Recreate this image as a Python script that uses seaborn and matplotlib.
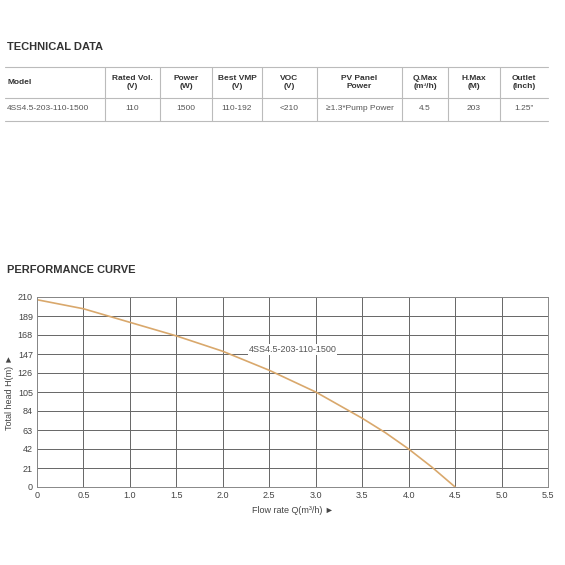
import numpy as np
import matplotlib.pyplot as plt
import seaborn as sns

# table data
headers = ['Model', 'Rated Vol.\n(V)', 'Power\n(W)', 'Best VMP\n(V)', 'VOC\n(V)',
           'PV Panel\nPower', 'Q.Max\n(m³/h)', 'H.Max\n(M)', 'Outlet\n(Inch)']
row = ['4SS4.5-203-110-1500', '110', '1500', '110-192', '<210',
       '≥1.3*Pump Power', '4.5', '203', '1.25"']

# curve data
flow = [0, 0.5, 1.0, 1.5, 2.0, 2.5, 3.0, 3.5, 3.75, 4.0, 4.25, 4.5]
head = [207, 197, 182, 167, 150, 129, 105, 76, 60, 42, 22, 0]

sns.set_theme(style='white')
plt.rcParams['font.family'] = ['Liberation Sans', 'DejaVu Sans']

W = 565
fig = plt.figure(figsize=(5.65, 5.65), dpi=100)
tc = '#333333'

def fy(p):
    return 1 - p / W

# technical data table
fig.text(7 / W, fy(47), 'TECHNICAL DATA', fontsize=8, fontweight='bold', color=tc, va='center')
xs = [5, 105, 160, 212, 262, 317, 402, 448, 500, 548]
for y in [67, 98, 121]:
    fig.add_artist(plt.Line2D([5 / W, 548 / W], [fy(y), fy(y)], color='#bbbbbb', lw=0.8))
for x in xs[1:-1]:
    fig.add_artist(plt.Line2D([x / W, x / W], [fy(67), fy(121)], color='#bbbbbb', lw=0.8))
for i, (h, v) in enumerate(zip(headers, row)):
    if i == 0:
        fig.text(7 / W, fy(82), h, fontsize=6, fontweight='bold', color=tc, va='center')
        fig.text(7 / W, fy(109), v, fontsize=6, color='#555555', va='center')
    else:
        cx = (xs[i] + xs[i + 1]) / 2 / W
        fig.text(cx, fy(82), h, fontsize=6, fontweight='bold', color=tc, va='center', ha='center', linespacing=1.2)
        fig.text(cx, fy(109), v, fontsize=6, color='#555555', va='center', ha='center')

# performance curve
fig.text(7 / W, fy(270), 'PERFORMANCE CURVE', fontsize=8, fontweight='bold', color=tc, va='center')
ax = fig.add_axes([37 / W, fy(487), (548 - 37) / W, (487 - 297) / W])
sns.lineplot(x=flow, y=head, ax=ax, color='#d9a86c', lw=1.2)
ax.set_xlim(0, 5.5)
ax.set_ylim(0, 210)
ax.set_xticks(np.arange(0, 5.51, 0.5))
ax.set_xticklabels(['0'] + [f'{v:.1f}' for v in np.arange(0.5, 5.51, 0.5)])
ax.set_yticks(np.arange(0, 211, 21))
ax.grid(True, color='#666666', lw=0.7)
for s in ax.spines.values():
    s.set_color('#888888')
    s.set_linewidth(0.7)
ax.tick_params(labelsize=6.5, colors='#444444', length=0, pad=3)
ax.set_xlabel('Flow rate Q(m³/h) ►', fontsize=6.5, color='#444444', labelpad=4)
ax.set_ylabel('Total head H(m) ►', fontsize=6.5, color='#444444', labelpad=3)
ax.text(2.28, 147, '4SS4.5-203-110-1500', fontsize=6.5, color='#555555', va='bottom',
        bbox=dict(fc='white', ec='none', pad=0.5))

fig.savefig('out.png', dpi=100)
